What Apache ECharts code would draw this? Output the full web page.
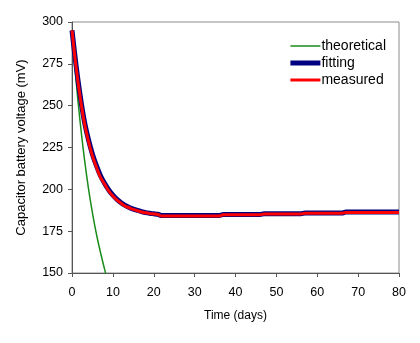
<!DOCTYPE html>
<html>
<head>
<meta charset="utf-8">
<script src="https://cdn.jsdelivr.net/npm/echarts@6/dist/echarts.min.js"></script>
<style>
  html, body { margin: 0; padding: 0; background: #fff; }
  #main { width: 420px; height: 343px; }
</style>
</head>
<body>
<div id="main"></div>
<script>
// values (days, mV)
var theoDays = [0, 1, 2, 3, 4, 5, 6, 7, 8, 9];
var theoVolts = [295, 265, 240, 219, 201, 186, 173, 162, 152, 143];

var measDays = [0, 1, 2, 3, 4, 5, 6, 7, 8, 9, 10, 11, 12, 13, 14, 15, 16, 17, 18, 19, 20, 21, 22, 36, 37, 46, 47, 56, 57, 66, 67, 80];
var measVolts = [295, 273, 255, 240, 229, 220, 213, 207, 203, 199, 196, 193.6, 191.7, 190, 189, 188, 187.2, 186.5, 186, 185.6, 185.3, 185, 184, 184, 184.8, 184.8, 185.3, 185.3, 185.7, 185.7, 186.2, 186.2];

var fitDays = [0, 1, 2, 3, 4, 5, 6, 7, 8, 9, 10, 11, 12, 13, 14, 15, 16, 17, 18, 19, 20, 21, 22, 36, 37, 46, 47, 56, 57, 66, 67, 80];
var fitVolts = [295, 274, 256, 241, 230, 221, 214, 208, 203.5, 199.6, 196.5, 194, 192, 190.4, 189.2, 188.2, 187.4, 186.7, 186.1, 185.7, 185.4, 185.1, 184.3, 184.3, 185, 185, 185.4, 185.4, 185.8, 185.8, 186.4, 186.4];

var xTicks = { min: 0, max: 80, step: 10 };
var yTicks = { min: 150, max: 300, step: 25 };

function pairs(xs, ys) {
  return xs.map(function (x, i) { return [x, ys[i]]; });
}

var font = 'Liberation Sans, Arial, sans-serif';
var chart = echarts.init(document.getElementById('main'));
chart.setOption({
  animation: false,
  textStyle: { fontFamily: font },
  grid: {
    left: 72, right: 21, top: 22, bottom: 70,
    show: true, borderColor: '#8c8c8c', borderWidth: 1
  },
  legend: {
    right: 29, top: 34, orient: 'vertical',
    itemWidth: 30, itemHeight: 10, itemGap: 3,
    textStyle: { fontSize: 14, color: '#000', padding: [0, 0, 0, -4] },
    data: [
      { name: 'theoretical', icon: 'path://M0,0H30V1.5H0Z' },
      { name: 'fitting', icon: 'path://M0,0H30V5H0Z' },
      { name: 'measured', icon: 'path://M0,0H30V3H0Z' }
    ]
  },
  xAxis: {
    type: 'value', min: xTicks.min, max: xTicks.max, interval: xTicks.step,
    name: 'Time (days)', nameLocation: 'middle', nameGap: 37,
    nameTextStyle: { fontSize: 12, color: '#000' },
    axisLine: { lineStyle: { color: '#555', width: 1 } },
    axisTick: { inside: false, length: 4, lineStyle: { color: '#555' } },
    axisLabel: { fontSize: 12.5, color: '#000', margin: 13 },
    splitLine: { show: false }
  },
  yAxis: {
    type: 'value', min: yTicks.min, max: yTicks.max, interval: yTicks.step,
    name: 'Capacitor battery voltage (mV)', nameLocation: 'middle', nameGap: 44,
    nameTextStyle: { fontSize: 13, color: '#000' },
    axisLine: { show: true, lineStyle: { color: '#555', width: 1 } },
    axisTick: { show: true, inside: false, length: 4, lineStyle: { color: '#555' } },
    axisLabel: { fontSize: 12.5, color: '#000', margin: 9 },
    splitLine: { show: false }
  },
  series: [
    {
      name: 'theoretical', type: 'line', smooth: true, showSymbol: false, symbol: 'none',
      data: pairs(theoDays, theoVolts),
      lineStyle: { color: '#1a8c1a', width: 1.5 }, itemStyle: { color: '#1a8c1a' }
    },
    {
      name: 'fitting', type: 'line', smooth: 0.3, showSymbol: false, symbol: 'none',
      data: pairs(fitDays, fitVolts),
      lineStyle: { color: '#000080', width: 5 }, itemStyle: { color: '#000080' }
    },
    {
      name: 'measured', type: 'line', smooth: 0.3, showSymbol: false, symbol: 'none',
      data: pairs(measDays, measVolts),
      lineStyle: { color: '#ff0000', width: 3 }, itemStyle: { color: '#ff0000' }
    }
  ]
});
</script>
</body>
</html>
